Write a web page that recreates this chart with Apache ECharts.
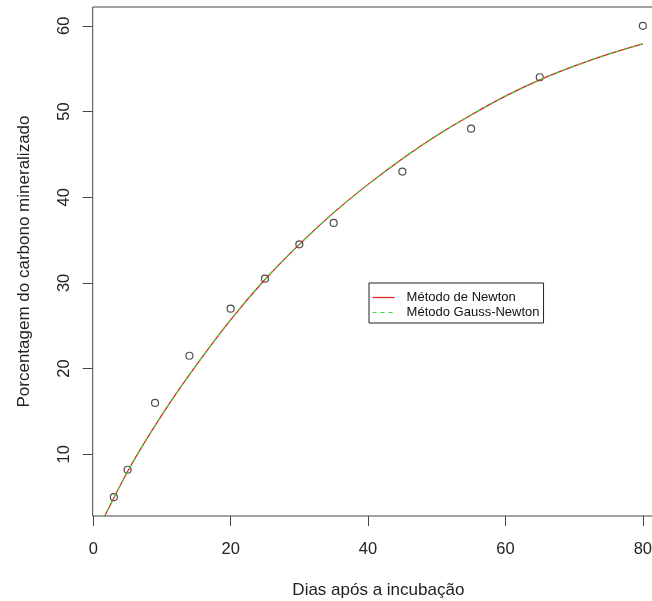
<!DOCTYPE html>
<html>
<head>
<meta charset="utf-8">
<script src="https://cdn.jsdelivr.net/npm/echarts@6/dist/echarts.min.js"></script>
<style>
html,body{margin:0;padding:0;background:#fff;overflow:hidden;}
#chart{width:652px;height:601px;}
</style>
</head>
<body>
<div id="chart"></div>
<script>
// Observed data (days, % mineralized carbon)
var obsDays = [3, 5, 9, 14, 20, 25, 30, 35, 45, 55, 65, 80];
var obsCarbon = [5, 8.2, 16, 21.5, 27, 30.5, 34.5, 37, 43, 48, 54, 60];

// Fitted curves
var curveDays = [0, 5, 10, 15, 20, 25, 30, 35, 40, 45, 50, 55, 60, 65, 70, 75, 80];
var newtonFit = [0, 8.0, 14.6, 20.4, 25.7, 30.4, 34.5, 38.2, 41.5, 44.5, 47.2, 49.6, 51.8, 53.7, 55.3, 56.7, 57.9];
var gaussNewtonFit = [0, 8.0, 14.6, 20.4, 25.7, 30.4, 34.5, 38.2, 41.5, 44.5, 47.2, 49.6, 51.8, 53.7, 55.3, 56.7, 57.9];

var xTicks = [0, 20, 40, 60, 80];
var yTicks = [10, 20, 30, 40, 50, 60];

var seriesNames = ['Método de Newton', 'Método Gauss-Newton'];
var xTitle = 'Dias após a incubação';
var yTitle = 'Porcentagem do carbono mineralizado';

function zip(xs, ys) { return xs.map(function (x, i) { return [x, ys[i]]; }); }

var FONT = "'Liberation Sans', Arial, sans-serif";
var AX = '#444';
var chart = echarts.init(document.getElementById('chart'), null, {renderer: 'canvas'});
chart.setOption({
  animation: false,
  backgroundColor: '#ffffff',
  textStyle: {fontFamily: FONT},
  grid: {
    left: 92.7, top: 7, width: 571.3, height: 509,
    show: true, borderColor: AX, borderWidth: 1, backgroundColor: 'transparent',
    containLabel: false, outerBoundsMode: 'none'
  },
  legend: {
    orient: 'vertical',
    left: 369, top: 283,
    padding: [8, 4, 4, 3],
    itemGap: 2,
    itemWidth: 22, itemHeight: 13,
    borderColor: '#222', borderWidth: 1,
    backgroundColor: '#fff',
    selectedMode: false,
    itemStyle: {color: 'rgba(0,0,0,0)', borderWidth: 0, opacity: 0},
    lineStyle: {width: 1.2},
    textStyle: {fontSize: 13, color: '#111', fontFamily: FONT, padding: [0, 0, 0, 7]},
    data: seriesNames
  },
  xAxis: {
    type: 'value',
    min: -0.08, max: 83.08,
    axisLine: {show: false, onZero: false},
    splitLine: {show: false},
    axisTick: {show: true, inside: false, length: 10, lineStyle: {color: AX, width: 1}, customValues: xTicks},
    axisLabel: {customValues: xTicks, fontSize: 16.5, color: '#222', margin: 25, fontFamily: FONT},
    name: xTitle,
    nameLocation: 'middle',
    nameGap: 66,
    nameTextStyle: {fontSize: 17, color: '#222', fontFamily: FONT}
  },
  yAxis: {
    type: 'value',
    min: 2.8, max: 62.2,
    axisLine: {show: false, onZero: false},
    splitLine: {show: false},
    axisTick: {show: true, inside: false, length: 10, lineStyle: {color: AX, width: 1}, customValues: yTicks},
    axisLabel: {customValues: yTicks, fontSize: 16.5, color: '#222', margin: 20, rotate: 90, fontFamily: FONT},
    name: yTitle,
    nameLocation: 'middle',
    nameGap: 60,
    nameTextStyle: {fontSize: 17, color: '#222', fontFamily: FONT}
  },
  series: [
    {
      type: 'scatter',
      name: 'obs',
      data: zip(obsDays, obsCarbon),
      symbol: 'circle',
      symbolSize: 7,
      itemStyle: {color: 'rgba(0,0,0,0)', borderColor: '#222', borderWidth: 1.2},
      z: 2
    },
    {
      type: 'line',
      name: seriesNames[0],
      data: zip(curveDays, newtonFit),
      smooth: 0.35,
      showSymbol: false, symbol: 'none',
      clip: true,
      lineStyle: {color: '#dd1c1c', width: 1.2, type: 'solid'},
      itemStyle: {color: '#dd1c1c'},
      z: 3
    },
    {
      type: 'line',
      name: seriesNames[1],
      data: zip(curveDays, gaussNewtonFit),
      smooth: 0.35,
      showSymbol: false, symbol: 'none',
      clip: true,
      lineStyle: {color: '#33dd33', width: 1.2, type: [4, 4]},
      itemStyle: {color: '#33dd33'},
      z: 4
    }
  ]
});
</script>
</body>
</html>
